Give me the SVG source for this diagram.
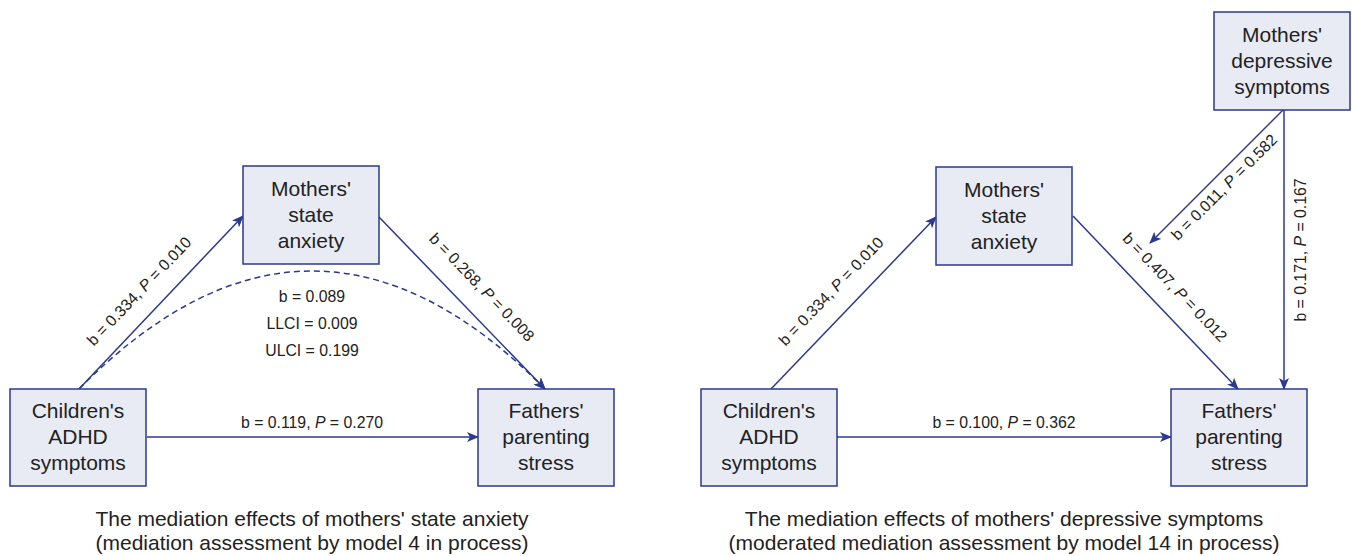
<svg xmlns="http://www.w3.org/2000/svg" width="1352" height="556" viewBox="0 0 1352 556">
<defs>
<marker id="ah" viewBox="0 0 12 10" refX="11" refY="5" markerWidth="12" markerHeight="10" markerUnits="userSpaceOnUse" orient="auto">
<path d="M0,0 L12,5 L0,10 L3,5 z" fill="#2b3990"/>
</marker>
<style>
.box{fill:#e8ebf3;stroke:#2b3990;stroke-width:1.5}
.nt{font-family:"Liberation Sans",Arial,sans-serif;font-size:21px;fill:#222;text-anchor:middle}
.el{font-family:"Liberation Sans",Arial,sans-serif;font-size:15.8px;fill:#222;text-anchor:middle}
.cap{font-family:"Liberation Sans",Arial,sans-serif;font-size:21px;fill:#222;text-anchor:middle}
.ln{stroke:#2b3990;stroke-width:1.5;fill:none;marker-end:url(#ah)}
.dash{stroke-dasharray:6,4}
</style>
</defs>
<rect width="1352" height="556" fill="#fff"/>
<g id="connectors">
<line class="ln" x1="79" y1="389" x2="243" y2="216"/>
<line class="ln" x1="379" y1="217" x2="545" y2="389"/>
<path class="ln dash" d="M79,389 Q312,153 545,389"/>
<line class="ln" x1="147" y1="437" x2="478" y2="437"/>
<line class="ln" x1="771" y1="389" x2="936" y2="217"/>
<line class="ln" x1="1073" y1="216" x2="1238" y2="389"/>
<line class="ln" x1="1283" y1="110" x2="1150" y2="243"/>
<line class="ln" x1="1284" y1="110" x2="1284" y2="389"/>
<line class="ln" x1="837" y1="437" x2="1171" y2="437"/>
</g>
<g id="edge-labels">
<text class="el" transform="translate(143,295) rotate(-46.4)">b = 0.334, <tspan font-style="italic">P</tspan> = 0.010</text>
<text class="el" transform="translate(478,291) rotate(46)">b = 0.268, <tspan font-style="italic">P</tspan> = 0.008</text>
<text class="el" x="312" y="302">b = 0.089</text>
<text class="el" x="312" y="329">LLCI = 0.009</text>
<text class="el" x="312" y="356">ULCI = 0.199</text>
<text class="el" x="312" y="428">b = 0.119, <tspan font-style="italic">P</tspan> = 0.270</text>
<text class="el" transform="translate(835,295) rotate(-46.2)">b = 0.334, <tspan font-style="italic">P</tspan> = 0.010</text>
<text class="el" transform="translate(1171,291) rotate(46.4)">b = 0.407, <tspan font-style="italic">P</tspan> = 0.012</text>
<text class="el" transform="translate(1228,191) rotate(-45)">b = 0.011, <tspan font-style="italic">P</tspan> = 0.582</text>
<text class="el" transform="translate(1306,250) rotate(-90)">b = 0.171, <tspan font-style="italic">P</tspan> = 0.167</text>
<text class="el" x="1004" y="428">b = 0.100, <tspan font-style="italic">P</tspan> = 0.362</text>
</g>
<g id="node-L-mothers-anxiety">
<rect class="box" x="243" y="166" width="136" height="98"/>
<text class="nt" x="311" y="196">Mothers'</text>
<text class="nt" x="311" y="222">state</text>
<text class="nt" x="311" y="248">anxiety</text>
</g>
<g id="node-L-children">
<rect class="box" x="10" y="389" width="136" height="97"/>
<text class="nt" x="78" y="418">Children's</text>
<text class="nt" x="78" y="444">ADHD</text>
<text class="nt" x="78" y="470">symptoms</text>
</g>
<g id="node-L-fathers">
<rect class="box" x="478" y="389" width="136" height="97"/>
<text class="nt" x="546" y="418">Fathers'</text>
<text class="nt" x="546" y="444">parenting</text>
<text class="nt" x="546" y="470">stress</text>
</g>
<g id="node-R-mothers-anxiety">
<rect class="box" x="936" y="167" width="136" height="98"/>
<text class="nt" x="1004" y="197">Mothers'</text>
<text class="nt" x="1004" y="223">state</text>
<text class="nt" x="1004" y="249">anxiety</text>
</g>
<g id="node-R-children">
<rect class="box" x="701" y="389" width="136" height="97"/>
<text class="nt" x="769" y="418">Children's</text>
<text class="nt" x="769" y="444">ADHD</text>
<text class="nt" x="769" y="470">symptoms</text>
</g>
<g id="node-R-fathers">
<rect class="box" x="1171" y="389" width="136" height="97"/>
<text class="nt" x="1239" y="418">Fathers'</text>
<text class="nt" x="1239" y="444">parenting</text>
<text class="nt" x="1239" y="470">stress</text>
</g>
<g id="node-R-depressive">
<rect class="box" x="1214" y="12" width="136" height="98"/>
<text class="nt" x="1282" y="42">Mothers'</text>
<text class="nt" x="1282" y="68">depressive</text>
<text class="nt" x="1282" y="94">symptoms</text>
</g>
<g id="captions">
<text class="cap" x="312" y="526">The mediation effects of mothers' state anxiety</text>
<text class="cap" x="312" y="550">(mediation assessment by model 4 in process)</text>
<text class="cap" x="1004" y="526">The mediation effects of mothers' depressive symptoms</text>
<text class="cap" x="1004" y="550">(moderated mediation assessment by model 14 in process)</text>
</g>
</svg>
